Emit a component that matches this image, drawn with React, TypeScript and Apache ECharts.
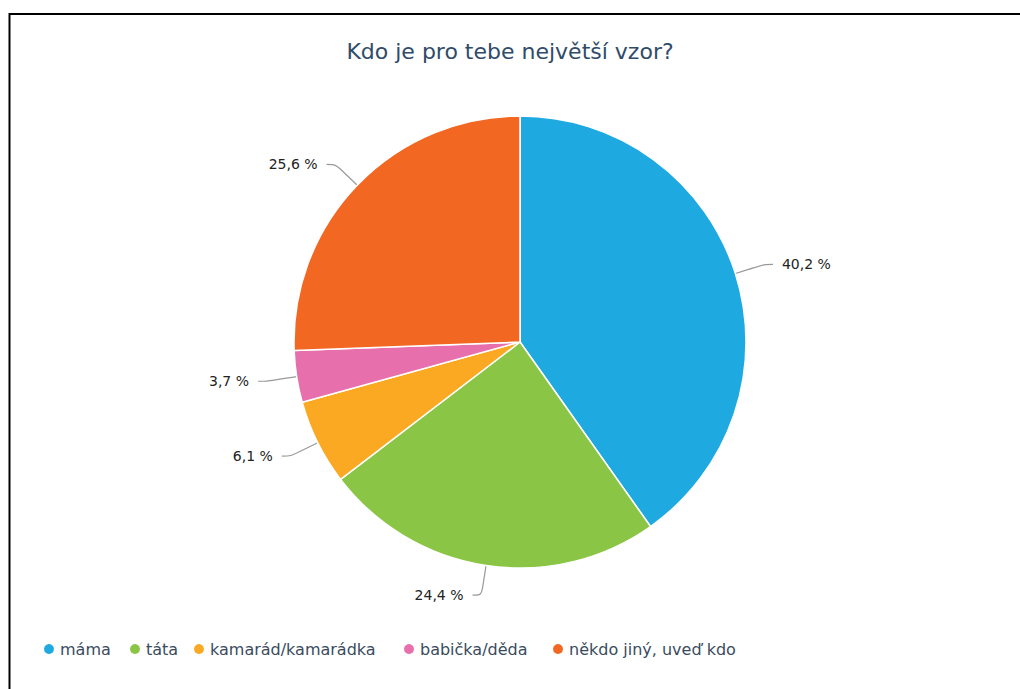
import React, { useEffect, useRef } from "react";
import * as echarts from "echarts";

const titleText = "Kdo je pro tebe největší vzor?";
const categories = ["máma", "táta", "kamarád/kamarádka", "babička/děda", "někdo jiný, uveď kdo"];
const values = [40.2, 24.4, 6.1, 3.7, 25.6];
const colors = ["#1fa9e1", "#8bc546", "#fba823", "#e76fab", "#f26722"];
const legendLefts = [37, 123, 187, 397, 546];

export default function App() {
  const ref = useRef<HTMLDivElement>(null);
  useEffect(() => {
    if (!ref.current) return;
    const chart = echarts.init(ref.current, null, { renderer: "svg" });
    chart.setOption({
      animation: false,
      backgroundColor: "#ffffff",
      title: {
        text: titleText,
        left: "center",
        top: 35,
        textStyle: {
          fontFamily: "DejaVu Sans",
          fontSize: 22,
          fontWeight: "normal",
          color: "#2f4b6a",
        },
      },
      legend: categories.map((c, i) => ({
        left: legendLefts[i],
        top: 636,
        icon: "circle",
        itemWidth: 12,
        itemHeight: 12,
        textStyle: {
          fontFamily: "DejaVu Sans",
          fontSize: 16,
          color: "#3a4b5e",
        },
        data: [c],
      })),
      graphic: [
        {
          type: "rect",
          shape: { x: 9.5, y: 14, width: 1100, height: 800 },
          style: { fill: "none", stroke: "#000", lineWidth: 2 },
          silent: true,
          z: -1,
        },
      ],
      series: [
        {
          type: "pie",
          center: [520, 342],
          radius: 226,
          startAngle: 90,
          clockwise: true,
          itemStyle: { borderColor: "#ffffff", borderWidth: 1.5 },
          label: {
            formatter: (p: any) => p.value.toFixed(1).replace(".", ",") + " %",
            fontFamily: "DejaVu Sans",
            fontSize: 14,
            color: "#222",
            distanceToLabelLine: 9,
            padding: [6, 0, 0, 0],
          },
          labelLine: {
            length: 30,
            length2: 9,
            smooth: 0.3,
            lineStyle: { color: "#999", width: 1.2 },
          },
          data: categories.map((c, i) => ({
            name: c,
            value: values[i],
            itemStyle: { color: colors[i] },
          })),
        },
      ],
    });
    return () => chart.dispose();
  }, []);
  return (
    <div
      ref={ref}
      style={{ position: "fixed", left: 0, top: 0, width: 1020, height: 689 }}
    />
  );
}
